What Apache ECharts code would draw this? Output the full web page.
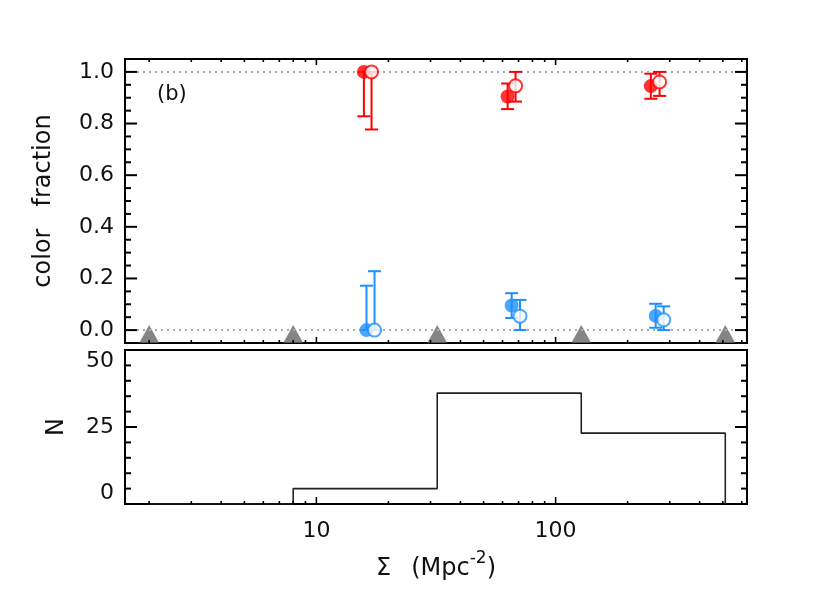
<!DOCTYPE html>
<html>
<head>
<meta charset="utf-8">
<script src="https://cdn.jsdelivr.net/npm/echarts@6/dist/echarts.min.js"></script>
<style>html,body{margin:0;padding:0;background:#fff;}#chart{width:830px;height:593px;}</style>
</head>
<body>
<div id="chart"></div>
<script>
// ---- data ----
// histogram (bottom panel)
const binEdges   = [2, 8, 32, 128, 512];
const histCounts = [0, 5, 36, 23];

// bin-edge markers (top panel, grey triangles)
const edgeMarkers = [2, 8, 32, 128, 512];

// red fraction, filled symbols
const redFilledSigma = [15.8, 63, 250];
const redFilledFrac  = [1.0, 0.905, 0.945];
const redFilledLo    = [0.828, 0.856, 0.896];
const redFilledHi    = [1.0, 0.955, 0.993];
// red fraction, open symbols
const redOpenSigma = [17.0, 68, 272];
const redOpenFrac  = [1.0, 0.946, 0.961];
const redOpenLo    = [0.777, 0.885, 0.907];
const redOpenHi    = [1.0, 1.0, 1.0];
// blue fraction, filled symbols
const blueFilledSigma = [16.2, 65.5, 262];
const blueFilledFrac  = [0.0, 0.095, 0.055];
const blueFilledLo    = [0.0, 0.047, 0.009];
const blueFilledHi    = [0.172, 0.143, 0.102];
// blue fraction, open symbols
const blueOpenSigma = [17.5, 71, 283];
const blueOpenFrac  = [0.0, 0.054, 0.040];
const blueOpenLo    = [0.0, 0.0, 0.0];
const blueOpenHi    = [0.228, 0.117, 0.092];

// ticks
const xMajorTicks = [10, 100];
const xMinorTicks = [2, 3, 4, 5, 6, 7, 8, 9, 20, 30, 40, 50, 60, 70, 80, 90, 200, 300, 400, 500, 600];
const yTopMajorTicks = [0, 0.2, 0.4, 0.6, 0.8, 1.0];
const yTopMinorTicks = [0.05, 0.1, 0.15, 0.25, 0.3, 0.35, 0.45, 0.5, 0.55, 0.65, 0.7, 0.75, 0.85, 0.9, 0.95];
const yBotMajorTicks = [0, 25, 50];
const yBotMinorTicks = [5, 10, 15, 20, 30, 35, 40, 45];

// ---- chart ----
const X_MIN = Math.pow(10, 0.2), X_MAX = Math.pow(10, 2.8);
const RED = '#ff0000', BLUE = '#1e90ff', GREY = '#666666';
const FONT = 'DejaVu Sans';
const TXT = '#111';

function zip4(a, b, c, d) { return a.map((v, i) => [v, b[i], c[i], d[i]]); }

function tickData(yMid, yMajors, yMinors) {
  return [].concat(
    xMajorTicks.map(v => [v, yMid, 0]),
    xMinorTicks.map(v => [v, yMid, 1]),
    yMajors.map(v => [10, v, 2]),
    yMinors.map(v => [10, v, 3])
  );
}

function tickRenderer(lenXMaj, lenXMin, topTicks) {
  return function (params, api) {
    const cs = params.coordSys;
    const code = api.value(2);
    const pt = api.coord([api.value(0), api.value(1)]);
    const ch = [];
    if (code < 2) {
      const L = code === 0 ? lenXMaj : lenXMin;
      const st = { stroke: '#000', lineWidth: 1.6 };
      const b = cs.y + cs.height;
      ch.push({ type: 'line', shape: { x1: pt[0], y1: b, x2: pt[0], y2: b - L }, style: st });
      if (topTicks) ch.push({ type: 'line', shape: { x1: pt[0], y1: cs.y, x2: pt[0], y2: cs.y + L }, style: st });
    } else {
      const L = code === 2 ? 12 : 6;
      const st = { stroke: '#000', lineWidth: 2 };
      const r = cs.x + cs.width;
      ch.push({ type: 'line', shape: { x1: cs.x, y1: pt[1], x2: cs.x + L, y2: pt[1] }, style: st });
      ch.push({ type: 'line', shape: { x1: r, y1: pt[1], x2: r - L, y2: pt[1] }, style: st });
    }
    return { type: 'group', children: ch };
  };
}

function errRenderer(color) {
  return function (params, api) {
    const x = api.value(0);
    const lo = api.coord([x, api.value(2)]);
    const hi = api.coord([x, api.value(3)]);
    const w = 6.5;
    const st = { stroke: color, lineWidth: 2 };
    return {
      type: 'group',
      children: [
        { type: 'line', shape: { x1: lo[0], y1: lo[1], x2: hi[0], y2: hi[1] }, style: st },
        { type: 'line', shape: { x1: lo[0] - w, y1: lo[1], x2: lo[0] + w, y2: lo[1] }, style: st },
        { type: 'line', shape: { x1: hi[0] - w, y1: hi[1], x2: hi[0] + w, y2: hi[1] }, style: st }
      ]
    };
  };
}

function errSeries(color, sig, frac, lo, hi, z) {
  return {
    type: 'custom', xAxisIndex: 0, yAxisIndex: 0, z: z, silent: true,
    renderItem: errRenderer(color),
    encode: { x: 0, y: 1 },
    data: zip4(sig, frac, lo, hi)
  };
}

function markerSeries(color, sig, frac, open, z) {
  return {
    type: 'scatter', xAxisIndex: 0, yAxisIndex: 0, z: z, silent: true,
    symbol: 'circle', symbolSize: open ? 13 : 14,
    itemStyle: open ? { color: '#fff', borderColor: color, borderWidth: 2 } : { color: color },
    data: sig.map((v, i) => [v, frac[i]])
  };
}

// histogram step line points (step: 'start')
const histPoints = [[binEdges[0], 0]];
histCounts.forEach((c, i) => histPoints.push([binEdges[i + 1], c]));
histPoints.push([binEdges[binEdges.length - 1], 0]);

const chart = echarts.init(document.getElementById('chart'), null, { renderer: 'canvas' });

const xBase = {
  type: 'log', logBase: 10, min: X_MIN, max: X_MAX,
  axisLine: { show: false }, axisTick: { show: false }, splitLine: { show: false }
};

chart.setOption({
  animation: false,
  backgroundColor: '#fff',
  grid: [
    { left: 125, right: 83, top: 59, height: 284, show: true, borderColor: '#000', borderWidth: 2, backgroundColor: 'transparent', outerBoundsMode: 'none' },
    { left: 125, right: 83, top: 350, height: 154, show: true, borderColor: '#000', borderWidth: 2, backgroundColor: 'transparent', outerBoundsMode: 'none' }
  ],
  xAxis: [
    Object.assign({}, xBase, { gridIndex: 0, axisLabel: { show: false } }),
    Object.assign({}, xBase, {
      gridIndex: 1,
      axisLabel: {
        show: true, margin: 16, color: TXT, fontFamily: FONT, fontSize: 22,
        formatter: function (v) {
          const l = Math.log10(v);
          return Math.abs(l - Math.round(l)) < 1e-6 ? String(Math.round(v)) : '';
        }
      },
      name: '{a|Σ}{g| }{a|(Mpc}{s|-2}{a|)}',
      nameLocation: 'middle', nameGap: 46,
      nameTextStyle: {
        rich: {
          a: { fontFamily: FONT, fontSize: 24, color: TXT },
          g: { fontFamily: FONT, fontSize: 24, width: 20 },
          s: { fontFamily: FONT, fontSize: 17, color: TXT, padding: [0, 0, 20, 0] }
        }
      }
    })
  ],
  yAxis: [
    {
      gridIndex: 0, type: 'value', min: -0.05, max: 1.05, interval: 0.05,
      axisLine: { show: false }, axisTick: { show: false }, splitLine: { show: false },
      axisLabel: {
        margin: 11, color: TXT, fontFamily: FONT, fontSize: 22,
        formatter: function (v) {
          const k = Math.round(v * 100);
          return (k >= 0 && k <= 100 && k % 20 === 0) ? (k / 100).toFixed(1) : '';
        }
      },
      name: '{a|color}{g| }{a|fraction}', nameLocation: 'middle', nameGap: 69, nameRotate: 90,
      nameTextStyle: {
        rich: {
          a: { fontFamily: FONT, fontSize: 24, color: TXT },
          g: { fontFamily: FONT, fontSize: 24, width: 22 }
        }
      }
    },
    {
      gridIndex: 1, type: 'value', min: 0, max: 50, interval: 25,
      axisLine: { show: false }, axisTick: { show: false }, splitLine: { show: false },
      axisLabel: {
        margin: 11, color: TXT, fontFamily: FONT, fontSize: 22,
        verticalAlignMinLabel: 'bottom', verticalAlignMaxLabel: 'top'
      },
      name: 'N', nameLocation: 'middle', nameGap: 56, nameRotate: 90,
      nameTextStyle: { fontFamily: FONT, fontSize: 24, color: TXT }
    }
  ],
  graphic: [
    { type: 'text', left: 157, top: 84, style: { text: '(b)', font: '21px "DejaVu Sans"', fill: TXT } }
  ],
  series: [
    {
      type: 'custom', xAxisIndex: 0, yAxisIndex: 0, z: 10, silent: true,
      renderItem: tickRenderer(6, 3, true), encode: { x: 0, y: 1 },
      data: tickData(0.5, yTopMajorTicks, yTopMinorTicks)
    },
    {
      type: 'custom', xAxisIndex: 1, yAxisIndex: 1, z: 10, silent: true,
      renderItem: tickRenderer(7, 3, false), encode: { x: 0, y: 1 },
      data: tickData(25, yBotMajorTicks, yBotMinorTicks)
    },
    {
      type: 'scatter', xAxisIndex: 0, yAxisIndex: 0, z: 3, silent: true, clip: false,
      symbol: 'triangle', symbolSize: [20, 18], symbolOffset: [0, -9],
      itemStyle: { color: GREY },
      data: edgeMarkers.map(v => [v, -0.05]),
      markLine: {
        silent: true, symbol: 'none', label: { show: false }, animation: false,
        lineStyle: { color: '#aaaaaa', width: 2, type: [2, 4] },
        data: [{ yAxis: 1 }, { yAxis: 0 }]
      }
    },
    errSeries(RED, redFilledSigma, redFilledFrac, redFilledLo, redFilledHi, 4),
    markerSeries(RED, redFilledSigma, redFilledFrac, false, 5),
    errSeries(RED, redOpenSigma, redOpenFrac, redOpenLo, redOpenHi, 6),
    markerSeries(RED, redOpenSigma, redOpenFrac, true, 7),
    errSeries(BLUE, blueFilledSigma, blueFilledFrac, blueFilledLo, blueFilledHi, 4),
    markerSeries(BLUE, blueFilledSigma, blueFilledFrac, false, 5),
    errSeries(BLUE, blueOpenSigma, blueOpenFrac, blueOpenLo, blueOpenHi, 6),
    markerSeries(BLUE, blueOpenSigma, blueOpenFrac, true, 7),
    {
      type: 'line', xAxisIndex: 1, yAxisIndex: 1, z: 4, silent: true,
      step: 'start', symbol: 'none',
      lineStyle: { color: '#222', width: 1.6 },
      data: histPoints
    }
  ]
});
</script>
</body>
</html>
